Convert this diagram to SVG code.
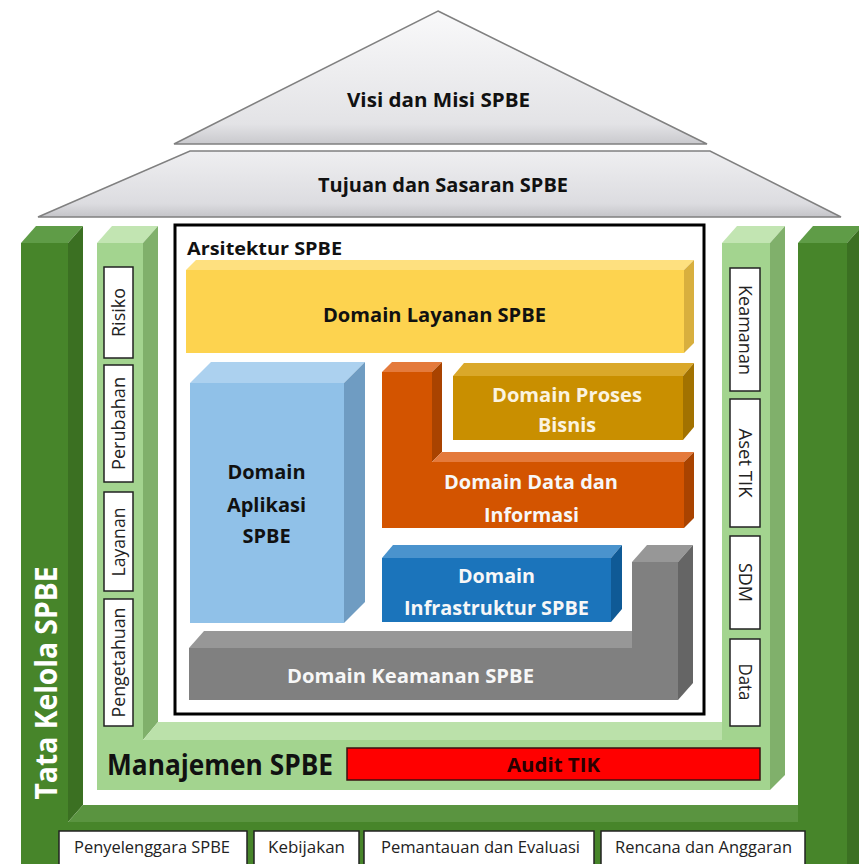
<svg xmlns="http://www.w3.org/2000/svg" width="859" height="864" viewBox="0 0 859 864">
<defs>
<linearGradient id="roofA" x1="0" y1="0" x2="0" y2="1"><stop offset="0" stop-color="#f9f9fa"/><stop offset="0.85" stop-color="#e3e3e6"/><stop offset="1" stop-color="#c9c9cd"/></linearGradient>
<linearGradient id="roofB" x1="0" y1="0" x2="0" y2="1"><stop offset="0" stop-color="#efeff1"/><stop offset="0.8" stop-color="#dcdce0"/><stop offset="1" stop-color="#c4c4c8"/></linearGradient>
</defs>
<style>
text{font-family:"Open Sans","DejaVu Sans",sans-serif}
.b{font-weight:700}
.m{text-anchor:middle}
.lbl{font-size:18px;fill:#222;text-anchor:middle}
.box{fill:#fff;stroke:#222;stroke-width:1.5}
.dgF{fill:#47852a}.dgT{fill:#5f9c47}.dgS{fill:#3b7022}.dgB{fill:#5a9440}
.lgF{fill:#a3d48f}.lgT{fill:#c2e5b2}.lgS{fill:#80b06b}.lgB{fill:#bbe1aa}
.wt{fill:#f7f7f7}
</style>
<rect width="859" height="864" fill="#fff"/>

<g id="tata-kelola">
<rect class="dgF" x="21" y="243" width="47" height="621"/>
<polygon class="dgT" points="21,243 36,226 83,226 68,243"/>
<polygon class="dgS" points="68,243 83,226 83,805 68,822"/>
<rect class="dgF" x="68" y="822" width="730" height="42"/>
<polygon class="dgB" points="68,822 83,805 798,805 798,822"/>
<rect class="dgF" x="798" y="243" width="49" height="621"/>
<polygon class="dgT" points="798,243 813,226 862,226 847,243"/>
<polygon class="dgS" points="847,243 862,226 862,864 847,864"/>
<text class="b m" transform="translate(46,683) rotate(-90)" y="10.7" font-size="30" fill="#fff" textLength="233" lengthAdjust="spacingAndGlyphs">Tata Kelola SPBE</text>
</g>

<g id="manajemen">
<rect class="lgF" x="97" y="243" width="46" height="547"/>
<polygon class="lgT" points="97,243 112,226 158,226 143,243"/>
<polygon class="lgS" points="143,243 158,226 158,722 143,740"/>
<rect class="lgF" x="143" y="740" width="579" height="50"/>
<polygon class="lgB" points="143,740 158,722 722,722 722,740"/>
<rect class="lgF" x="722" y="243" width="48" height="547"/>
<polygon class="lgT" points="722,243 737,226 785,226 770,243"/>
<polygon class="lgS" points="770,243 785,226 785,775 770,790"/>
<text class="b" x="107" y="775" font-size="28" fill="#111" textLength="226" lengthAdjust="spacingAndGlyphs">Manajemen SPBE</text>
</g>

<g id="audit-tik">
<rect x="347" y="748" width="413" height="32" fill="#ff0000" stroke="#3a1010" stroke-width="1.5"/>
<text class="b m" x="553.5" y="772" font-size="19" fill="#2a0000" textLength="93" lengthAdjust="spacingAndGlyphs">Audit TIK</text>
</g>

<g id="label-risiko"><rect class="box" x="104" y="267" width="29" height="91"/><text class="lbl" transform="translate(118.5,312.5) rotate(-90)" y="6.5" textLength="49" lengthAdjust="spacingAndGlyphs">Risiko</text></g>
<g id="label-perubahan"><rect class="box" x="104" y="365" width="29" height="117"/><text class="lbl" transform="translate(118.5,423.5) rotate(-90)" y="6.5" textLength="93" lengthAdjust="spacingAndGlyphs">Perubahan</text></g>
<g id="label-layanan"><rect class="box" x="104" y="492" width="29" height="99"/><text class="lbl" transform="translate(118.5,542) rotate(-90)" y="6.5" textLength="69" lengthAdjust="spacingAndGlyphs">Layanan</text></g>
<g id="label-pengetahuan"><rect class="box" x="104" y="599" width="29" height="127"/><text class="lbl" transform="translate(118.5,662.5) rotate(-90)" y="6.5" textLength="110" lengthAdjust="spacingAndGlyphs">Pengetahuan</text></g>

<g id="label-keamanan"><rect class="box" x="730" y="268" width="30" height="123"/><text class="lbl" transform="translate(745,330) rotate(90)" y="6.5" textLength="90" lengthAdjust="spacingAndGlyphs">Keamanan</text></g>
<g id="label-aset-tik"><rect class="box" x="730" y="399" width="30" height="128"/><text class="lbl" transform="translate(745,463) rotate(90)" y="6.5" textLength="69" lengthAdjust="spacingAndGlyphs">Aset TIK</text></g>
<g id="label-sdm"><rect class="box" x="730" y="536" width="30" height="93"/><text class="lbl" transform="translate(745,582.5) rotate(90)" y="6.5" textLength="39" lengthAdjust="spacingAndGlyphs">SDM</text></g>
<g id="label-data"><rect class="box" x="730" y="639" width="30" height="87"/><text class="lbl" transform="translate(745,682) rotate(90)" y="6.5" textLength="37" lengthAdjust="spacingAndGlyphs">Data</text></g>

<g id="arsitektur">
<rect x="175" y="225" width="529" height="489" fill="#fff" stroke="#000" stroke-width="3"/>
<text class="b" x="187" y="255" font-size="18" fill="#111" textLength="155" lengthAdjust="spacingAndGlyphs">Arsitektur SPBE</text>
</g>

<g id="domain-layanan">
<rect x="186" y="270" width="498" height="83" fill="#fdd34f"/>
<polygon points="186,270 196,260 694,260 684,270" fill="#fee07f"/>
<polygon points="684,270 694,260 694,343 684,353" fill="#d8af3e"/>
<text class="b m" x="434.5" y="322" font-size="20" fill="#111" textLength="223" lengthAdjust="spacingAndGlyphs">Domain Layanan SPBE</text>
</g>

<g id="domain-aplikasi">
<rect x="190" y="383" width="154" height="240" fill="#90c1e8"/>
<polygon points="190,383 211,362 365,362 344,383" fill="#acd1ef"/>
<polygon points="344,383 365,362 365,602 344,623" fill="#6f9cc2"/>
<text class="b m" font-size="20" fill="#111"><tspan x="266.5" y="479">Domain</tspan><tspan x="266.5" y="512">Aplikasi</tspan><tspan x="266.5" y="543">SPBE</tspan></text>
</g>

<g id="domain-data">
<polygon points="382,372 432,372 432,462 684,462 684,528 382,528" fill="#d35400"/>
<polygon points="382,372 392,362 442,362 432,372" fill="#e47a3c"/>
<polygon points="432,372 442,362 442,452 432,462" fill="#a94300"/>
<polygon points="432,462 442,452 694,452 684,462" fill="#e47a3c"/>
<polygon points="684,462 694,452 694,518 684,528" fill="#a94300"/>
<text class="b m" x="531" y="489" font-size="20" class-note="" fill="#f7f7f7" textLength="174" lengthAdjust="spacingAndGlyphs">Domain Data dan</text>
<text class="b m" x="531.5" y="522" font-size="20" fill="#f7f7f7" textLength="95" lengthAdjust="spacingAndGlyphs">Informasi</text>
</g>

<g id="domain-proses">
<rect x="453" y="376" width="230" height="64" fill="#c98f00"/>
<polygon points="453,376 464,363 694,363 683,376" fill="#daa82a"/>
<polygon points="683,376 694,363 694,427 683,440" fill="#a27200"/>
<text class="b m" x="567" y="402" font-size="20" fill="#fbf3e0" textLength="150" lengthAdjust="spacingAndGlyphs">Domain Proses</text>
<text class="b m" x="567" y="432" font-size="20" fill="#fbf3e0" textLength="58" lengthAdjust="spacingAndGlyphs">Bisnis</text>
</g>

<g id="domain-infrastruktur">
<rect x="382" y="558" width="229" height="64" fill="#1b74bb"/>
<polygon points="382,558 393,545 622,545 611,558" fill="#4a93cd"/>
<polygon points="611,558 622,545 622,609 611,622" fill="#0f5a96"/>
<text class="b m" x="496.5" y="583" font-size="20" fill="#f7f7f7" textLength="77" lengthAdjust="spacingAndGlyphs">Domain</text>
<text class="b m" x="496.5" y="615" font-size="20" fill="#f7f7f7" textLength="185" lengthAdjust="spacingAndGlyphs">Infrastruktur SPBE</text>
</g>

<g id="domain-keamanan">
<polygon points="189,648 632,648 632,562 678,562 678,700 189,700" fill="#808080"/>
<polygon points="189,648 204,631 632,631 632,648" fill="#979797"/>
<polygon points="632,562 647,545 693,545 678,562" fill="#979797"/>
<polygon points="678,562 693,545 693,683 678,700" fill="#656565"/>
<text class="b m" x="410.5" y="683" font-size="20" fill="#f7f7f7" textLength="247" lengthAdjust="spacingAndGlyphs">Domain Keamanan SPBE</text>
</g>

<g id="visi-misi">
<polygon points="438,11 707,144 174,144" fill="url(#roofA)" stroke="#808080" stroke-width="1.5"/>
<text class="b m" x="438.5" y="107" font-size="20" fill="#111" textLength="183" lengthAdjust="spacingAndGlyphs">Visi dan Misi SPBE</text>
</g>

<g id="tujuan-sasaran">
<polygon points="190,151 710,151 841,217 38,217" fill="url(#roofB)" stroke="#808080" stroke-width="1.5"/>
<text class="b m" x="443" y="192" font-size="20" fill="#111" textLength="250" lengthAdjust="spacingAndGlyphs">Tujuan dan Sasaran SPBE</text>
</g>

<g id="penyelenggara"><rect class="box" x="59" y="831" width="188" height="40"/><text class="m" x="152" y="853" font-size="17" fill="#222" textLength="156" lengthAdjust="spacingAndGlyphs">Penyelenggara SPBE</text></g>
<g id="kebijakan"><rect class="box" x="254" y="831" width="105" height="40"/><text class="m" x="306.5" y="853" font-size="17" fill="#222" textLength="77" lengthAdjust="spacingAndGlyphs">Kebijakan</text></g>
<g id="pemantauan"><rect class="box" x="364" y="831" width="230" height="40"/><text class="m" x="480.5" y="853" font-size="17" fill="#222" textLength="199" lengthAdjust="spacingAndGlyphs">Pemantauan dan Evaluasi</text></g>
<g id="rencana"><rect class="box" x="601" y="831" width="204" height="40"/><text class="m" x="703.5" y="853" font-size="17" fill="#222" textLength="177" lengthAdjust="spacingAndGlyphs">Rencana dan Anggaran</text></g>

<g id="connectors"/>
</svg>
